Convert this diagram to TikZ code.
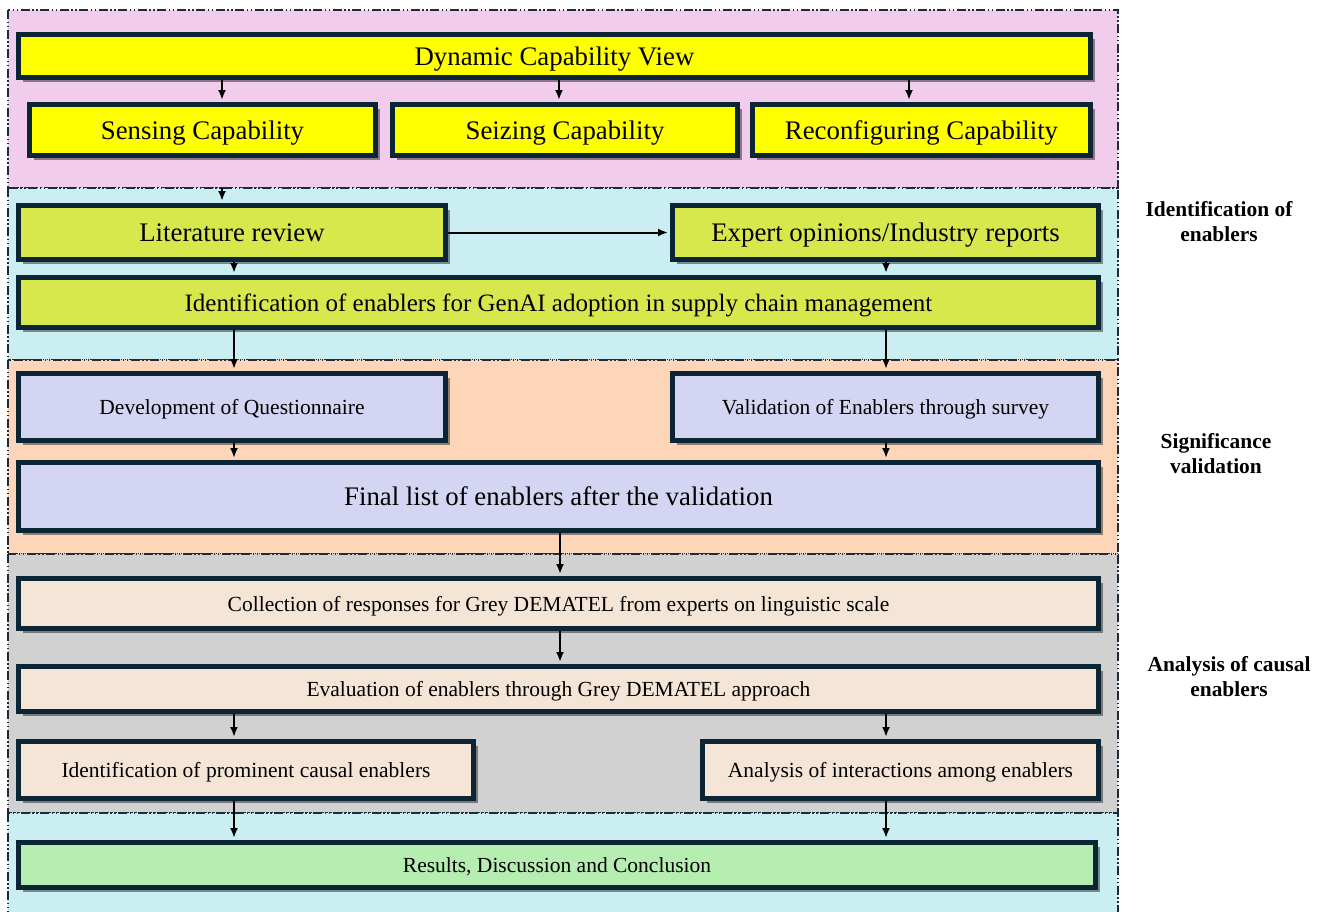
\documentclass[tikz,border=0pt]{standalone}
\usepackage{fontspec}
\setmainfont{Liberation Serif}
\usetikzlibrary{shadows,arrows.meta}
\definecolor{bord}{HTML}{0B2535}
\definecolor{bandline}{HTML}{1C2C3A}
\definecolor{cpink}{HTML}{F1CCEC}
\definecolor{ccyan}{HTML}{CBEEF2}
\definecolor{cpeach}{HTML}{FDD6B9}
\definecolor{cgray}{HTML}{D1D1D1}
\definecolor{cyel}{HTML}{FFFF00}
\definecolor{clime}{HTML}{D6E84C}
\definecolor{clav}{HTML}{D3D5F3}
\definecolor{cbeige}{HTML}{F5E5D7}
\definecolor{cgreen}{HTML}{B6EEB1}
\tikzset{
  band/.style={draw=bandline, line width=1.4pt, dash pattern=on 9pt off 2.5pt on 1.5pt off 2.5pt on 1.5pt off 2.5pt},
  box/.style={draw=bord, line width=5pt, inner sep=0pt, align=center, text depth=0pt,
    drop shadow={shadow xshift=4pt, shadow yshift=-4pt, fill=black, opacity=0.42}},
  big/.style={font=\fontsize{26.8}{30}\selectfont},
  mid/.style={font=\fontsize{25}{28}\selectfont},
  small/.style={font=\fontsize{21.5}{24}\selectfont},
  lab/.style={font=\fontsize{21.4}{25}\selectfont\bfseries, align=center},
  arr/.style={line width=2pt, -{Latex[length=10pt,width=8pt]}, shorten >=2pt}
}
\begin{document}
\begin{tikzpicture}[x=1pt,y=-1pt]
\useasboundingbox (0,0) rectangle (1321,911);
% bands
\draw[band, fill=cpink] (8,10) rectangle (1118,188);
\draw[band, fill=ccyan] (8,188) rectangle (1118,360);
\draw[band, fill=cpeach] (8,360) rectangle (1118,554);
\draw[band, fill=cgray] (8,554) rectangle (1118,813);
\draw[band, fill=ccyan] (8,813) rectangle (1118,913);
% x positions
\coordinate (xa) at (222,0);
\coordinate (xb) at (559,0);
\coordinate (xc) at (909,0);
\coordinate (xl) at (234,0);
\coordinate (xr) at (886,0);
\coordinate (xm) at (560,0);
\coordinate (sstart) at (222,188);
% boxes
\node[box, big, fill=cyel, minimum width=1072pt, minimum height=43pt] (dcv) at (554.5,56) {Dynamic Capability View};
\node[box, big, fill=cyel, minimum width=346pt, minimum height=51pt] (sens) at (202.5,130) {Sensing Capability};
\node[box, big, fill=cyel, minimum width=345pt, minimum height=51pt] (seiz) at (565,130) {Seizing Capability};
\node[box, big, fill=cyel, minimum width=338pt, minimum height=51pt] (reco) at (921.5,130) {Reconfiguring Capability};
\node[box, big, fill=clime, minimum width=427pt, minimum height=54pt] (lit) at (232,232.5) {Literature review};
\node[box, big, fill=clime, minimum width=426pt, minimum height=54pt] (exp) at (885.5,232.5) {Expert opinions/Industry reports};
\node[box, mid, fill=clime, minimum width=1080pt, minimum height=50pt] (iden) at (558.5,302.5) {Identification of enablers for GenAI adoption in supply chain management};
\node[box, small, fill=clav, minimum width=427pt, minimum height=67pt] (dev) at (232,407) {Development of Questionnaire};
\node[box, small, fill=clav, minimum width=426pt, minimum height=67pt] (val) at (885.5,407) {Validation of Enablers through survey};
\node[box, big, fill=clav, minimum width=1080pt, minimum height=68pt] (fin) at (558.5,496.5) {Final list of enablers after the validation};
\node[box, small, fill=cbeige, minimum width=1080pt, minimum height=50pt] (col) at (558.5,603.5) {Collection of responses for Grey DEMATEL from experts on linguistic scale};
\node[box, small, fill=cbeige, minimum width=1080pt, minimum height=45pt] (eva) at (558.5,689) {Evaluation of enablers through Grey DEMATEL approach};
\node[box, small, fill=cbeige, minimum width=455pt, minimum height=57pt] (pro) at (246,770) {Identification of prominent causal enablers};
\node[box, small, fill=cbeige, minimum width=396pt, minimum height=57pt] (ana) at (900.5,770) {Analysis of interactions among enablers};
\node[box, small, fill=cgreen, minimum width=1077pt, minimum height=45pt] (res) at (557,865) {Results, Discussion and Conclusion};
% labels
\node[lab] (l1) at (1219,221.5) {Identification of\\enablers};
\node[lab] (l2) at (1216,454) {Significance\\validation};
\node[lab] (l3) at (1229,677) {Analysis of causal\\enablers};
% arrows
\draw[arr] (dcv.south -| xa) -- (sens.north -| xa);
\draw[arr] (dcv.south -| xb) -- (seiz.north -| xb);
\draw[arr] (dcv.south -| xc) -- (reco.north -| xc);
\draw[arr] (sstart) -- (lit.north -| xa);
\draw[arr] (lit.east) -- (exp.west);
\draw[arr] (lit.south -| xl) -- (iden.north -| xl);
\draw[arr] (exp.south -| xr) -- (iden.north -| xr);
\draw[arr] (iden.south -| xl) -- (dev.north -| xl);
\draw[arr] (iden.south -| xr) -- (val.north -| xr);
\draw[arr] (dev.south -| xl) -- (fin.north -| xl);
\draw[arr] (val.south -| xr) -- (fin.north -| xr);
\draw[arr] (fin.south -| xm) -- (col.north -| xm);
\draw[arr] (col.south -| xm) -- (eva.north -| xm);
\draw[arr] (eva.south -| xl) -- (pro.north -| xl);
\draw[arr] (eva.south -| xr) -- (ana.north -| xr);
\draw[arr] (pro.south -| xl) -- (res.north -| xl);
\draw[arr] (ana.south -| xr) -- (res.north -| xr);
\end{tikzpicture}
\end{document}
